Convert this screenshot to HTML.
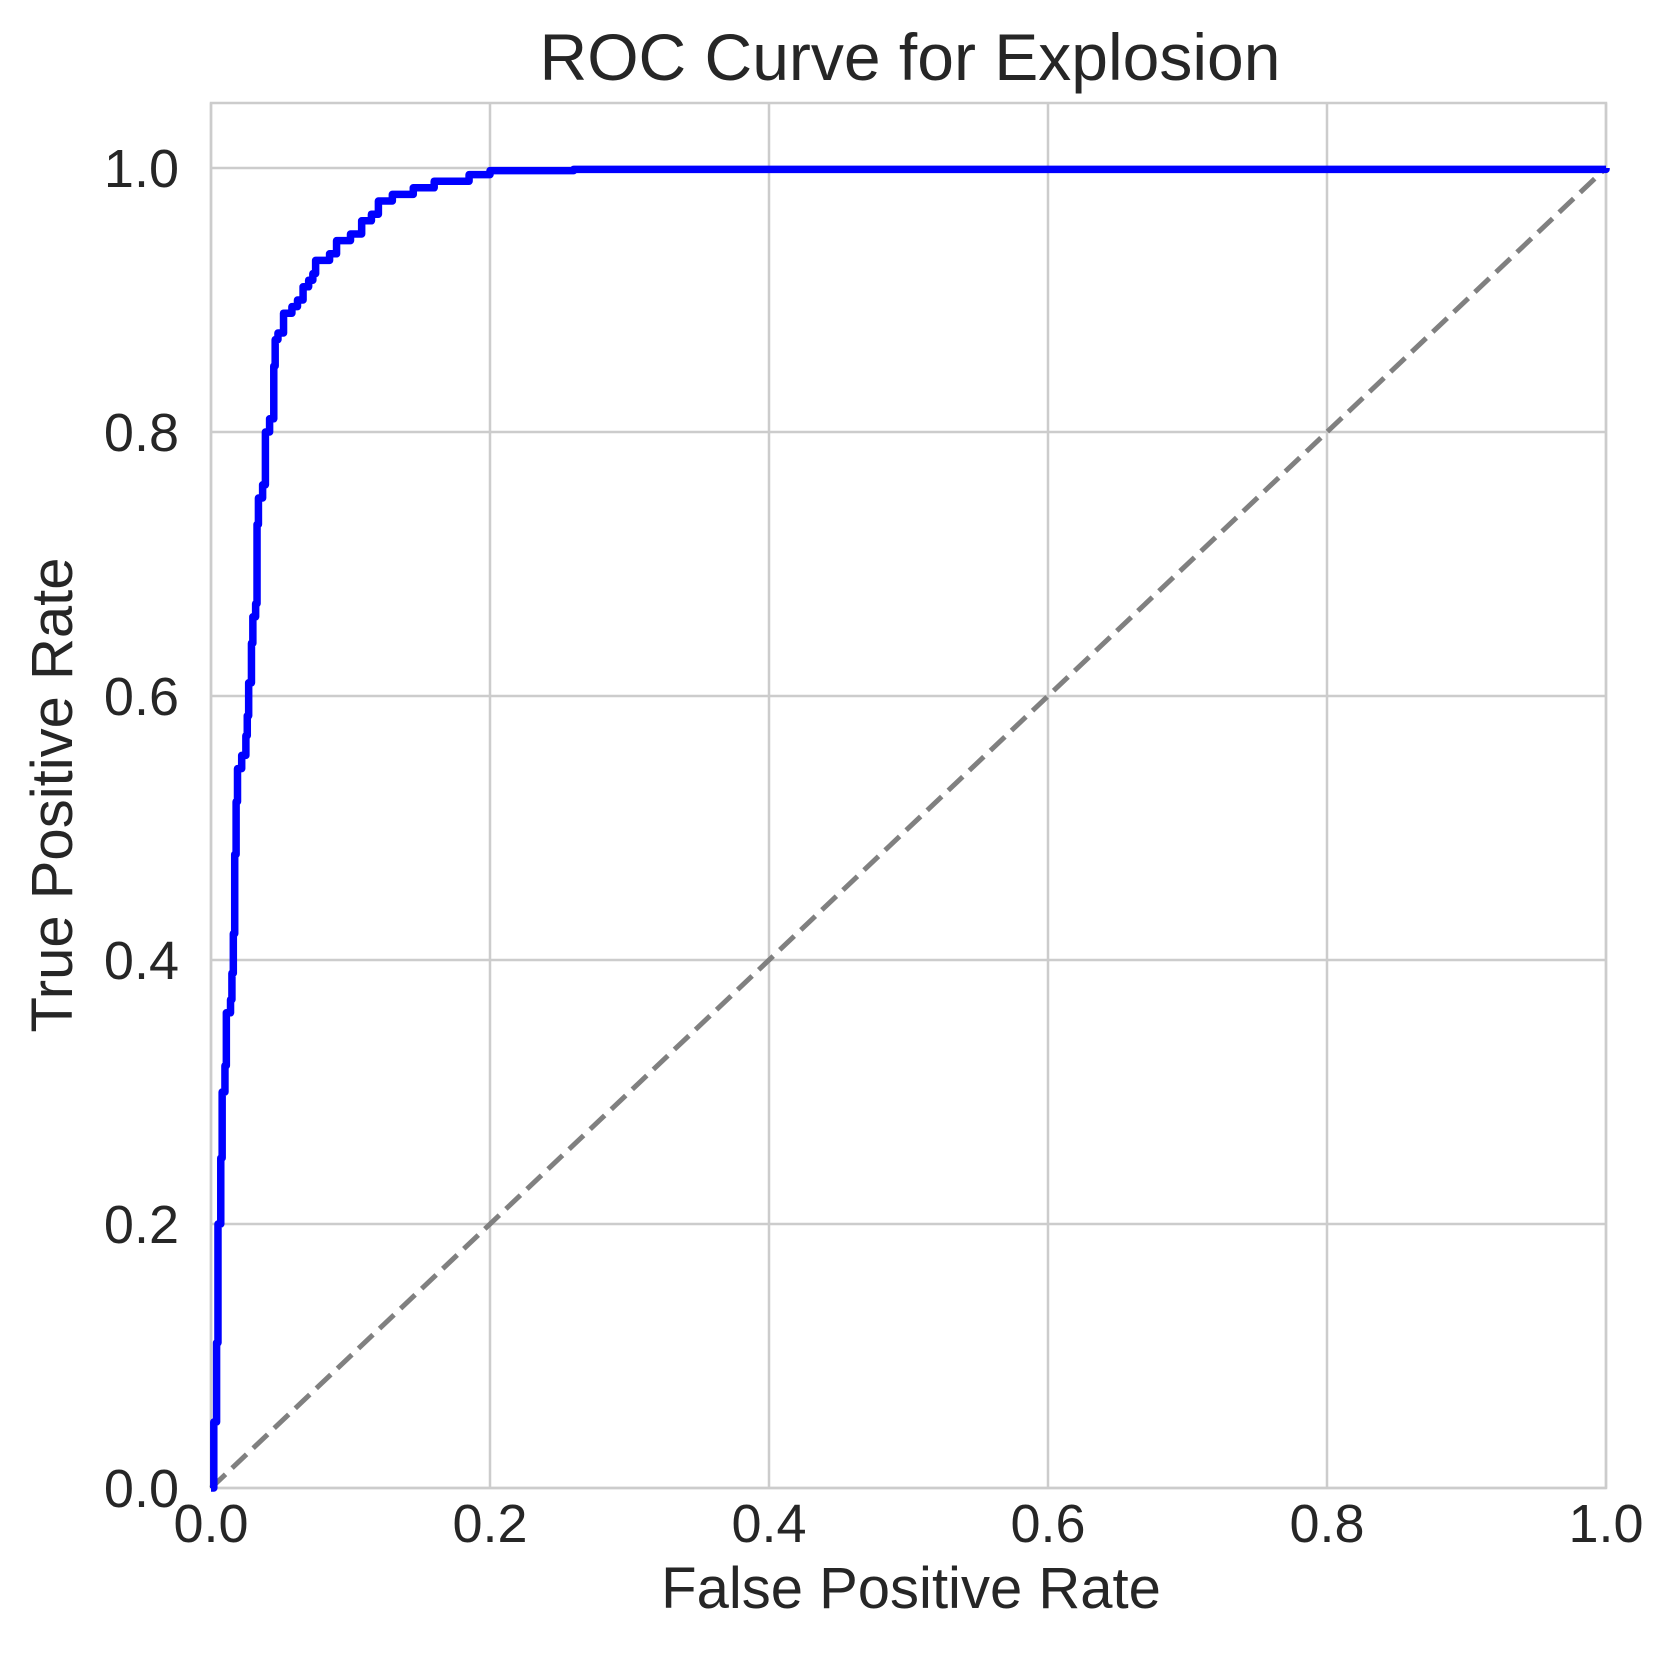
<!DOCTYPE html>
<html><head><meta charset="utf-8">
<style>
html,body{margin:0;padding:0;background:#fff;}
svg{display:block;font-family:"Liberation Sans",Arial,sans-serif;}
</style></head>
<body>
<svg id="chart" width="1676" height="1672" viewBox="0 0 1676 1672" xmlns="http://www.w3.org/2000/svg">
<text x="910" y="80" font-size="66" text-anchor="middle" fill="#262626">ROC Curve for Explosion</text>
<g id="grid"></g>
<g id="ticks"></g>
<rect x="211" y="103" width="1395" height="1385" fill="none" stroke="#cccccc" stroke-width="2.5"/>
<line id="diag" stroke="#808080" stroke-width="5" stroke-dasharray="20,9"/>
<polyline id="roc" fill="none" stroke="#0000ff" stroke-width="7.5" stroke-linejoin="round"/>
<text x="911" y="1608" font-size="58" text-anchor="middle" fill="#262626">False Positive Rate</text>
<text transform="translate(72,795) rotate(-90)" font-size="58" text-anchor="middle" fill="#262626">True Positive Rate</text>
</svg>
<script>
const tickValues=[0,0.2,0.4,0.6,0.8,1.0];
const tickLabels=["0.0","0.2","0.4","0.6","0.8","1.0"];
const fpr=[0,0.002,0.004,0.005,0.007,0.008,0.010,0.011,0.014,0.015,0.016,0.017,0.018,0.019,0.022,0.025,0.026,0.027,0.029,0.030,0.032,0.033,0.034,0.037,0.039,0.042,0.045,0.046,0.048,0.052,0.058,0.062,0.066,0.070,0.073,0.075,0.085,0.090,0.100,0.108,0.115,0.120,0.130,0.145,0.160,0.185,0.200,0.260,1.0];
const tpr=[0,0.05,0.11,0.20,0.25,0.30,0.32,0.36,0.37,0.39,0.42,0.48,0.52,0.545,0.555,0.57,0.585,0.61,0.64,0.66,0.67,0.73,0.75,0.76,0.80,0.81,0.85,0.87,0.875,0.89,0.895,0.90,0.91,0.915,0.92,0.93,0.935,0.945,0.95,0.96,0.965,0.975,0.98,0.985,0.99,0.995,0.998,0.999,1.0];
const X0=211,X1=1606,Y0=1488,Y1=168;
const xs=v=>X0+v*(X1-X0), ys=v=>Y0-v*(Y0-Y1);
const NS="http://www.w3.org/2000/svg";
const grid=document.getElementById('grid'), ticks=document.getElementById('ticks');
tickValues.forEach((v,i)=>{
  const gx=document.createElementNS(NS,'line');
  
  
  gx.setAttribute('x1',xs(v));gx.setAttribute('x2',xs(v));gx.setAttribute('y1',103);gx.setAttribute('y2',Y0);
  gx.setAttribute('stroke','#cccccc');gx.setAttribute('stroke-width','2.5');grid.appendChild(gx);
  const gy=document.createElementNS(NS,'line');
  
  
  gy.setAttribute('x1',X0);gy.setAttribute('x2',X1);gy.setAttribute('y1',ys(v));gy.setAttribute('y2',ys(v));
  gy.setAttribute('stroke','#cccccc');gy.setAttribute('stroke-width','2.5');grid.appendChild(gy);
  const tx=document.createElementNS(NS,'text');
  
  
  tx.setAttribute('x',xs(v));tx.setAttribute('y',1542);tx.setAttribute('font-size','54');tx.setAttribute('text-anchor','middle');tx.setAttribute('fill','#262626');
  tx.textContent=tickLabels[i];ticks.appendChild(tx);
  const ty=document.createElementNS(NS,'text');
  
  
  ty.setAttribute('x',179);ty.setAttribute('y',ys(v)+19);ty.setAttribute('font-size','54');ty.setAttribute('text-anchor','end');ty.setAttribute('fill','#262626');
  ty.textContent=tickLabels[i];ticks.appendChild(ty);
});
const d=document.getElementById('diag');
d.setAttribute('x1',xs(0));d.setAttribute('y1',ys(0));d.setAttribute('x2',xs(1));d.setAttribute('y2',ys(1));
let pts=[];
for(let i=0;i<fpr.length;i++){
  if(i>0) pts.push(xs(fpr[i])+','+ys(tpr[i-1]));
  pts.push(xs(fpr[i])+','+ys(tpr[i]));
}
document.getElementById('roc').setAttribute('points',pts.join(' '));
</script>
</body></html>
